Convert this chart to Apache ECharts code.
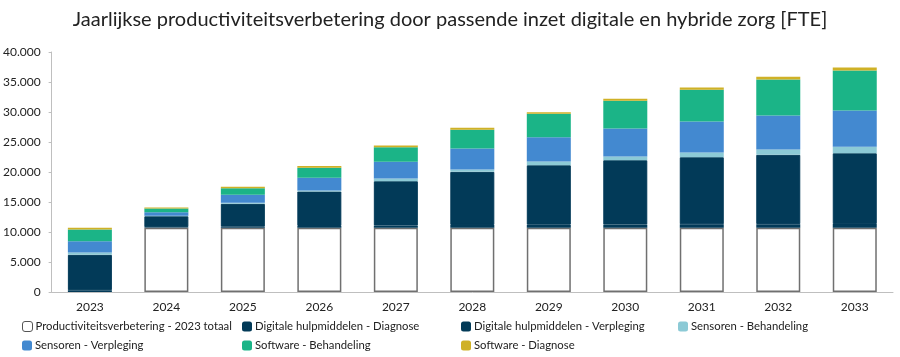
<!DOCTYPE html>
<html>
<head>
<meta charset="utf-8">
<script src="https://cdn.jsdelivr.net/npm/echarts@6/dist/echarts.min.js"></script>
<style>html,body{margin:0;padding:0;background:#fff}#c{width:900px;height:357px}</style>
</head>
<body>
<div id="c"></div>
<script>
const years = ['2023','2024','2025','2026','2027','2028','2029','2030','2031','2032','2033'];
const yTicks = [0,5000,10000,15000,20000,25000,30000,35000,40000];
const base2023 = [0,10700,10700,10700,10700,10700,10700,10700,10700,10700,10700];
const digDiagnose = [300,100,200,300,390,470,520,560,590,610,620];
const digVerpleging = [5900,1830,3800,5750,7380,8860,9910,10710,11180,11560,11810];
const sensBehandeling = [400,80,170,170,450,390,610,610,780,890,1070];
const sensVerpleging = [1850,600,1330,2110,2780,3500,4060,4670,5170,5670,6060];
const softBehandeling = [1950,600,1110,1670,2440,3110,3890,4610,5280,6000,6670];
const softDiagnose = [300,170,230,280,280,330,280,330,390,440,500];

const names = ['Productiviteitsverbetering - 2023 totaal','Digitale hulpmiddelen - Diagnose','Digitale hulpmiddelen - Verpleging','Sensoren - Behandeling','Sensoren - Verpleging','Software - Behandeling','Software - Diagnose'];
const datas = [base2023,digDiagnose,digVerpleging,sensBehandeling,sensVerpleging,softBehandeling,softDiagnose];
const colors = ['#ffffff','#023a58','#023a58','#8ccad6','#4389d0','#1bb487','#cfb126'];
const legendPos = [[22,321],[242,321],[461,321],[678,321],[22,340],[242,340],[461,340]];
const FONT = 'Lato';

const series = names.map((n,i)=>({
  name:n, type:'bar', stack:'t', barWidth:44,
  data: i===0 ? datas[i].map(v=>v===0?{value:v,itemStyle:{borderWidth:0}}:v) : datas[i],
  itemStyle: i===0 ? {color:'#ffffff', borderColor:'#707070', borderWidth:1.5}
           : {color:colors[i], borderColor:colors[i], borderWidth:(i===2?1:0)},
  emphasis:{disabled:true}
}));
const legends = names.map((n,i)=>({
  data:[n], left:legendPos[i][0], top:legendPos[i][1], itemWidth:10, itemHeight:10, padding:0,
  itemStyle: i===0 ? {borderWidth:1, borderColor:'#555'} : {borderWidth:0},
  textStyle:{fontFamily:FONT, fontSize:11.3, color:'#222', padding:[0,0,0,-2]}, selectedMode:false
}));

const chart = echarts.init(document.getElementById('c'), null, {renderer:'canvas'});
chart.setOption({
  animation:false,
  title:{text:'Jaarlijkse productiviteitsverbetering door passende inzet digitale en hybride zorg [FTE]', left:'center', top:5,
    textStyle:{fontFamily:FONT, fontSize:20, fontWeight:'normal', color:'#222'}},
  legend:legends,
  grid:{left:49, right:7, top:52, bottom:65},
  xAxis:{type:'category', data:years,
    axisLine:{lineStyle:{color:'#bfbfbf'}}, axisTick:{show:false},
    axisLabel:{fontFamily:FONT, fontSize:12, color:'#222', margin:9}},
  yAxis:{type:'value', min:yTicks[0], max:yTicks[yTicks.length-1], interval:5000,
    axisLine:{show:true, lineStyle:{color:'#bfbfbf'}}, axisTick:{show:true, length:3, lineStyle:{color:'#bfbfbf'}},
    splitLine:{show:false},
    axisLabel:{fontFamily:FONT, fontSize:12, color:'#222', margin:11,
      formatter:v=>String(v).replace(/\B(?=(\d{3})+(?!\d))/g,'.')}},
  series:series
});
</script>
</body>
</html>
